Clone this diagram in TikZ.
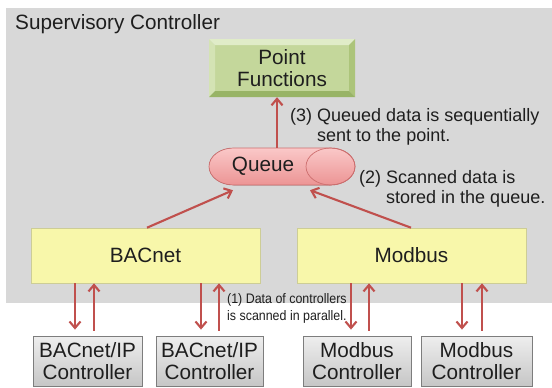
\documentclass[tikz,border=0pt]{standalone}
\usepackage{fontspec}
\setmainfont{Liberation Sans}
\newfontfamily\narrowfont[FakeStretch=0.9]{Liberation Sans}
\usetikzlibrary{arrows.meta,calc}
\definecolor{bggray}{RGB}{216,216,216}
\definecolor{arrowred}{RGB}{192,80,77}
\definecolor{txt}{RGB}{30,30,30}
\definecolor{yfill}{RGB}{248,247,170}
\definecolor{yborder}{RGB}{205,205,150}
\definecolor{gcenter}{RGB}{196,215,155}
\definecolor{gtop}{RGB}{224,236,200}
\definecolor{gleft}{RGB}{212,227,180}
\definecolor{gright}{RGB}{172,196,122}
\definecolor{gbottom}{RGB}{152,180,102}
\definecolor{qtop}{RGB}{250,200,200}
\definecolor{qbot}{RGB}{236,148,148}
\definecolor{qborder}{RGB}{205,110,110}
\definecolor{ctop}{RGB}{238,238,238}
\definecolor{cbot}{RGB}{198,198,198}
\definecolor{cborder}{RGB}{125,125,125}
\begin{document}
\begin{tikzpicture}[x=1bp,y=-1bp,
  bigfont/.style={font=\fontsize{20.7bp}{22bp}\selectfont},
  labelfont/.style={font=\fontsize{18bp}{20bp}\selectfont},
  smallfont/.style={font=\narrowfont\fontsize{13.8bp}{17bp}\selectfont},
  yellowbox/.style={draw=yborder, line width=0.6bp, fill=yfill, minimum width=229bp, minimum height=55bp, inner sep=0, bigfont, text=txt},
  ctrlbox/.style={draw=cborder, line width=0.8bp, top color=ctop, bottom color=cbot, minimum width=108bp, minimum height=50bp, inner sep=0, align=center, bigfont, text=txt},
  txtbox/.style={inner sep=0, text=txt},
  arr/.style={draw=arrowred, line width=2.1bp, -{Straight Barb[length=6.5bp,width=11bp]}}
]
\useasboundingbox (0,0) rectangle (552,387);
% background panel
\fill[bggray] (6,8) rectangle (552,303);
\node[txtbox, bigfont, anchor=base west] (title) at (15,29) {Supervisory Controller};

% Point Functions bevelled box
\fill[gcenter] (215,45) rectangle (349,91);
\fill[gtop] (209,39) -- (355,39) -- (349,45) -- (215,45) -- cycle;
\fill[gleft] (209,39) -- (215,45) -- (215,91) -- (209,97) -- cycle;
\fill[gright] (355,39) -- (355,97) -- (349,91) -- (349,45) -- cycle;
\fill[gbottom] (209,97) -- (355,97) -- (349,91) -- (215,91) -- cycle;
\node[txtbox, bigfont, align=center, minimum width=146bp, minimum height=58bp] (pf) at (282,68) {Point\\Functions};

% Queue cylinder
\filldraw[draw=qborder, line width=0.7bp, top color=qtop, bottom color=qbot]
  (233.5,148) -- (330.5,148) arc[start angle=90, end angle=-90, x radius=24.5bp, y radius=18.5bp]
  -- (233.5,185) arc[start angle=270, end angle=90, x radius=24.5bp, y radius=18.5bp] -- cycle;
\draw[draw=qborder, line width=0.7bp] (330.5,166.5) ellipse[x radius=24.5bp, y radius=18.5bp];
\node[inner sep=0, minimum width=146bp, minimum height=37bp] (queue) at (282,166.5) {};
\node[txtbox, bigfont] (qtext) at (263,166.5) {Queue};

% protocol boxes
\node[yellowbox] (bac) at (145.5,255.5) {BACnet};
\node[yellowbox] (mod) at (411.5,255.5) {Modbus};

% controllers
\node[ctrlbox, minimum width=109bp] (c1) at (87.5,361) {BACnet/IP\\Controller};
\node[ctrlbox, minimum width=107bp] (c2) at (209.5,361) {BACnet/IP\\Controller};
\node[ctrlbox, minimum width=108bp] (c3) at (357,361) {Modbus\\Controller};
\node[ctrlbox, minimum width=111bp] (c4) at (476.5,361) {Modbus\\Controller};

% x positions of vertical links
\coordinate (a1) at (147,0);
\coordinate (a2) at (411,0);
\coordinate (d1) at (75,0);   \coordinate (u1) at (94,0);
\coordinate (d2) at (201,0);  \coordinate (u2) at (219,0);
\coordinate (d3) at (351,0);  \coordinate (u3) at (369,0);
\coordinate (d4) at (462,0);  \coordinate (u4) at (482,0);

% connectors
\draw[arr] ([xshift=-5bp]queue.north) -- ([xshift=-5bp]pf.south);
\draw[arr] (bac.north -| a1) -- ($(queue.south)+(-49,5)$);
\draw[arr] (mod.north -| a2) -- ($(queue.south)+(28,5)$);

\draw[arr] (bac.south -| d1) -- ($(c1.north -| d1)+(0,-6)$);
\draw[arr] ($(c1.north -| u1)+(0,-5)$) -- (bac.south -| u1);
\draw[arr] (bac.south -| d2) -- ($(c2.north -| d2)+(0,-6)$);
\draw[arr] ($(c2.north -| u2)+(0,-5)$) -- (bac.south -| u2);
\draw[arr] (mod.south -| d3) -- ($(c3.north -| d3)+(0,-6)$);
\draw[arr] ($(c3.north -| u3)+(0,-5)$) -- (mod.south -| u3);
\draw[arr] (mod.south -| d4) -- ($(c4.north -| d4)+(0,-6)$);
\draw[arr] ($(c4.north -| u4)+(0,-5)$) -- (mod.south -| u4);

% labels
\node[txtbox, labelfont, anchor=base west] (l3) at (290,121)
  {\begin{tabular}[t]{@{}l@{ }l@{}}(3)&Queued data is sequentially\\&sent to the point.\end{tabular}};
\node[txtbox, labelfont, anchor=base west] (l2) at (359,183)
  {\begin{tabular}[t]{@{}l@{ }l@{}}(2)&Scanned data is\\&stored in the queue.\end{tabular}};
\node[txtbox, smallfont, anchor=base west] (l1) at (227,303)
  {\begin{tabular}[t]{@{}l@{}}(1) Data of controllers\\is scanned in parallel.\end{tabular}};
\end{tikzpicture}
\end{document}
